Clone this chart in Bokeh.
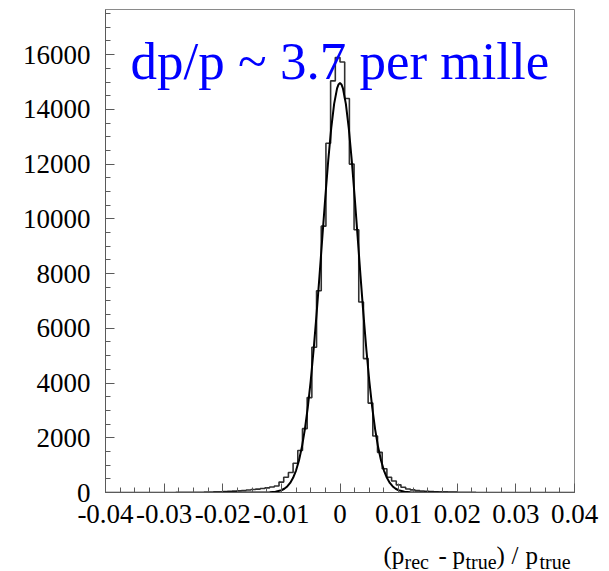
import numpy as np
from bokeh.plotting import figure
from bokeh.layouts import column
from bokeh.models import Range1d, FixedTicker, CustomJSTickFormatter, Label
from bokeh.core.properties import value
from bokeh.embed import file_html
from bokeh.resources import INLINE

# ---------------- data ----------------
hist_low = -0.04
hist_high = 0.04
# 100 bins of width 0.0008 from -0.04 to 0.04
counts = [
    0, 0, 0, 0, 0, 0, 0, 0, 0, 0,              # -0.0400 .. -0.0328
    1, 1, 1, 2, 2, 3, 4, 5, 7, 9,              # -0.0320 .. -0.0248
    11, 14, 18, 22, 28, 35, 42, 50, 62, 75,    # -0.0240 .. -0.0168
    90, 110, 125, 145, 170, 200, 240, 380, 560, 733,  # -0.0160 .. -0.0088
    1067, 1533, 2333, 3467, 5307, 7373, 9733, 12760, 15040, 15893,  # -0.0080 .. -0.0008
    15733, 14400, 12000, 9600, 6960, 4893, 3267, 2067, 1467, 867,   # 0 .. 0.0072
    560, 420, 280, 190, 130, 95, 70, 55, 42, 33,   # 0.0080 .. 0.0152
    25, 20, 15, 11, 8, 6, 5, 4, 3, 2,          # 0.0160 .. 0.0232
    2, 1, 1, 0, 0, 0, 0, 0, 0, 0,              # 0.0240 .. 0.0312
    0, 0, 0, 0, 0, 0, 0, 0, 0, 0,              # 0.0320 .. 0.0392
]

# Gaussian fit curve
fit_x = [-0.02, -0.015, -0.013, -0.012, -0.011, -0.010, -0.0095, -0.009, -0.0085,
         -0.008, -0.0075, -0.007, -0.0065, -0.006, -0.0055, -0.005, -0.0045,
         -0.004, -0.0035, -0.003, -0.0025, -0.002, -0.0015, -0.001, -0.0005,
         -0.00025, 0.0, 0.00025, 0.0005, 0.001, 0.0015, 0.002, 0.0025, 0.003,
         0.0035, 0.004, 0.0045, 0.005, 0.0055, 0.006, 0.0065, 0.007, 0.0075,
         0.008, 0.0085, 0.009, 0.0095, 0.010, 0.011, 0.012, 0.013, 0.015, 0.02]
fit_y = [0, 0, 2, 8, 28, 82, 137, 221, 349,
         536, 802, 1169, 1661, 2299, 3101, 4074, 5216,
         6507, 7909, 9366, 10807, 12150, 13307, 14202, 14767,
         14912, 14960, 14912, 14767, 14202, 13307, 12150, 10807, 9366,
         7909, 6507, 5216, 4074, 3101, 2299, 1661, 1169, 802,
         536, 349, 221, 137, 82, 28, 8, 2, 0, 0]

x_ticks = [-0.04, -0.03, -0.02, -0.01, 0.0, 0.01, 0.02, 0.03, 0.04]
y_ticks = [0, 2000, 4000, 6000, 8000, 10000, 12000, 14000, 16000]
y_top = 17650

title_text = "dp/p ~ 3.7 per mille"
# x-axis title pieces: (p_rec - p_true) / p_true
xtitle_main = ["(p", "-", "p", ")", "/", "p"]
xtitle_sub = ["rec", "true", "true"]

# ---------------- layout ----------------
W, H = 609, 571
H1 = 536                      # main figure height, the rest holds the axis title
FL, FR, FT, FB = 105, 574, 9, 492   # frame edges in pixels
X0, X1 = hist_low, hist_high
Y0, Y1 = 0, y_top

def dx(px):
    return X0 + (px - FL) * (X1 - X0) / (FR - FL)

def dy(py):
    return Y0 + (FB - py) * (Y1 - Y0) / (FB - FT)

p = figure(width=W, height=H1, output_backend="svg", toolbar_location=None,
           x_range=Range1d(X0, X1), y_range=Range1d(Y0, Y1),
           min_border_left=FL, min_border_right=W - FR,
           min_border_top=FT, min_border_bottom=H1 - FB)
p.background_fill_color = "white"
p.border_fill_color = "white"
p.outline_line_color = "#8a8a8a"
p.outline_line_width = 1
p.xgrid.visible = False
p.ygrid.visible = False

serif = "Liberation Serif"
axis_col = "#5a5a5a"

p.xaxis.ticker = FixedTicker(ticks=x_ticks,
                             minor_ticks=list(np.round(np.arange(X0, X1 + 1e-9, 0.0025), 5)))
p.yaxis.ticker = FixedTicker(ticks=y_ticks,
                             minor_ticks=list(np.arange(0, y_top, 500)))
p.xaxis.formatter = CustomJSTickFormatter(
    code="return Math.abs(tick) < 1e-9 ? '0' : tick.toFixed(2);")
p.yaxis.formatter = CustomJSTickFormatter(code="return tick.toFixed(0);")

for ax in (p.xaxis[0], p.yaxis[0]):
    ax.axis_line_color = axis_col
    ax.axis_line_width = 1
    ax.major_tick_line_color = axis_col
    ax.minor_tick_line_color = axis_col
    ax.major_tick_in = 9
    ax.major_tick_out = 0
    ax.minor_tick_in = 5
    ax.minor_tick_out = 0
    ax.major_label_text_font = serif
    ax.major_label_text_font_size = "27px"
    ax.major_label_text_color = "black"
p.xaxis.major_label_standoff = 12
p.yaxis.major_label_standoff = 15

# histogram outline
edges = np.linspace(hist_low, hist_high, len(counts) + 1)
p.step(x=edges, y=counts + [counts[-1]], mode="after",
       line_color="#303030", line_width=1.6)

# fit curve
p.line(x=fit_x, y=fit_y, line_color="black", line_width=2)

# title
p.add_layout(Label(x=dx(130), y=dy(60), text=title_text,
                   text_font=serif, text_font_size="53px",
                   text_color="#0000ff", text_baseline="alphabetic",
                   text_align="left"))

# ---------------- axis title strip (frame aligned with the main frame) ----------------
H2 = H - H1
p2 = figure(width=W, height=H2, output_backend="svg", toolbar_location=None,
            x_range=Range1d(FL, FR), y_range=Range1d(H, H1),
            x_axis_type=None, y_axis_type=None,
            min_border_left=FL, min_border_right=W - FR, min_border_top=0,
            min_border_bottom=0)
p2.outline_line_color = None
p2.background_fill_color = "white"
p2.border_fill_color = "white"
p2.xgrid.visible = False
p2.ygrid.visible = False

# pixel positions of the pieces (left edges), baselines
main_x = [383, 438, 452, 496, 511, 525]
sub_x = [404, 465, 539]
main_base, sub_base = 555, 561

p2.text(x=main_x, y=[main_base] * len(main_x), text=xtitle_main,
        text_font=value(serif), text_font_size=value("25px"),
        text_color="black", text_baseline="alphabetic", text_align="left")
p2.text(x=sub_x, y=[sub_base] * len(sub_x), text=xtitle_sub,
        text_font=value(serif), text_font_size=value("20px"),
        text_color="black", text_baseline="alphabetic", text_align="left")

layout = column(p, p2, spacing=0)
open("out.html", "w").write(file_html(layout, INLINE))
